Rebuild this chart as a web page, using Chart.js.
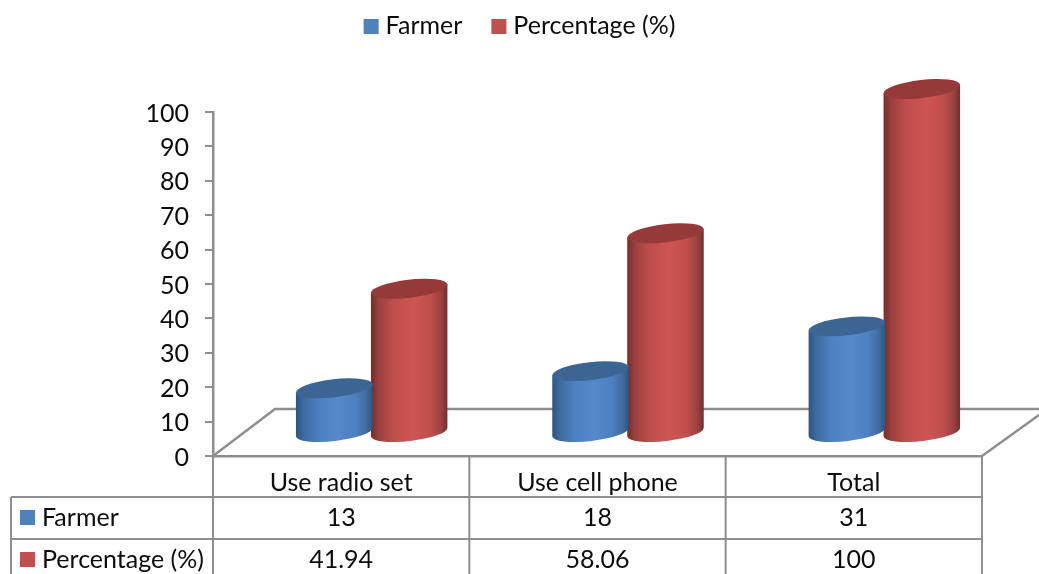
<!DOCTYPE html>
<html><head><meta charset="utf-8">
<style>html,body{margin:0;padding:0;background:#fff}canvas{display:block}</style>
<script src="https://cdn.jsdelivr.net/npm/chart.js@4/dist/chart.umd.min.js"></script>
</head><body><canvas id="c" width="1039" height="574"></canvas>
<script>
const categories = ["Use radio set", "Use cell phone", "Total"];
const farmer = [13, 18, 31];
const percentage = [41.94, 58.06, 100];
const seriesNames = ["Farmer", "Percentage (%)"];
const yTicks = [0,10,20,30,40,50,60,70,80,90,100];

const FONT = "Lato, Carlito, sans-serif";
const FS = 25;
const INK = "#0c0c0c";
const GRAY = "#8e8e8e";
const DEPTH = {x: 62, y: 47};
const BAR_SHIFT = {x: 30.5, y: -23};
const TONES = [
  {edge:"#2e5480", soft:"#3f6a9f", base:"#4d81c0", mid:"#5489cb", top:"#3d6594"},
  {edge:"#702d2b", soft:"#9a403e", base:"#bf4f4c", mid:"#cd5552", top:"#953a38"}
];

const cylinders = {
  id: "cylinders",
  beforeDatasetsDraw(chart) {
    const {ctx, chartArea: a} = chart;
    ctx.save();
    ctx.strokeStyle = GRAY; ctx.lineWidth = 2.5;
    ctx.beginPath();
    ctx.moveTo(a.left, a.bottom);
    ctx.lineTo(a.left + DEPTH.x, a.bottom - DEPTH.y);
    ctx.lineTo(chart.width, a.bottom - DEPTH.y);
    ctx.moveTo(a.right, a.bottom);
    ctx.lineTo(chart.width, a.bottom - 41);
    ctx.stroke();
    ctx.restore();
  },
  beforeDatasetDraw(chart, args) {
    const ctx = chart.ctx, tone = TONES[args.index], rot = -6.5 * Math.PI / 180, ry = 9;
    args.meta.data.forEach(bar => {
      const cx = bar.x + BAR_SHIFT.x, rx = bar.width / 2 + 1;
      const yt = bar.y + BAR_SHIFT.y, yb = bar.base + BAR_SHIFT.y;
      const ox = rx * Math.cos(rot), oy = rx * Math.sin(rot);
      const g = ctx.createLinearGradient(cx - rx, 0, cx + rx, 0);
      g.addColorStop(0, tone.edge);
      g.addColorStop(0.1, tone.soft);
      g.addColorStop(0.3, tone.base);
      g.addColorStop(0.55, tone.mid);
      g.addColorStop(0.78, tone.base);
      g.addColorStop(0.92, tone.soft);
      g.addColorStop(1, tone.edge);
      ctx.save();
      ctx.fillStyle = g;
      ctx.beginPath();
      ctx.moveTo(cx - ox, yt - oy);
      ctx.lineTo(cx - ox, yb - oy);
      ctx.ellipse(cx, yb, rx, ry, rot, Math.PI, 0, true);
      ctx.lineTo(cx + ox, yt + oy);
      ctx.closePath();
      ctx.fill();
      ctx.fillStyle = tone.top;
      ctx.beginPath();
      ctx.ellipse(cx, yt, rx, ry, rot, 0, Math.PI * 2);
      ctx.fill();
      ctx.restore();
    });
    return false;
  },
  afterDraw(chart) {
    const {ctx, chartArea: a, scales: {x}} = chart;
    const rows = [497, 539], leftEdge = 11;
    const step = x.getPixelForTick(1) - x.getPixelForTick(0);
    const edges = categories.map((_, i) => x.getPixelForTick(i) - step / 2);
    edges.push(a.right);
    ctx.save();
    ctx.strokeStyle = GRAY; ctx.lineWidth = 2;
    ctx.beginPath();
    edges.forEach(e => { ctx.moveTo(e, a.bottom); ctx.lineTo(e, chart.height); });
    ctx.moveTo(leftEdge, rows[0]); ctx.lineTo(leftEdge, chart.height);
    rows.forEach(r => { ctx.moveTo(leftEdge, r); ctx.lineTo(a.right, r); });
    ctx.stroke();
    ctx.font = FS + "px " + FONT;
    ctx.textBaseline = "middle";
    // table rows
    chart.data.datasets.forEach((ds, i) => {
      const yc = rows[i] + 21;
      ctx.fillStyle = ds.backgroundColor;
      ctx.fillRect(20, yc - 8, 15, 15);
      ctx.fillStyle = INK;
      ctx.textAlign = "left";
      ctx.fillText(ds.label, 42, yc);
      ctx.textAlign = "center";
      ds.data.forEach((v, j) => ctx.fillText(String(v), x.getPixelForTick(j), yc));
    });
    // legend
    const widths = chart.data.datasets.map(ds => 22 + ctx.measureText(ds.label).width);
    const gap = 29;
    let lx = (chart.width - widths.reduce((s, w) => s + w, 0) - gap) / 2;
    ctx.textAlign = "left";
    chart.data.datasets.forEach((ds, i) => {
      ctx.fillStyle = ds.backgroundColor;
      ctx.fillRect(lx, 19, 15, 15);
      ctx.fillStyle = INK;
      ctx.fillText(ds.label, lx + 22, 26);
      lx += widths[i] + gap;
    });
    ctx.restore();
  }
};

new Chart(document.getElementById("c"), {
  type: "bar",
  data: {
    labels: categories,
    datasets: [
      {label: seriesNames[0], data: farmer, backgroundColor: "#4f81bd"},
      {label: seriesNames[1], data: percentage, backgroundColor: "#c0504d"}
    ]
  },
  options: {
    responsive: false, animation: false,
    layout: {padding: {top: 112}},
    datasets: {bar: {barPercentage: 1, categoryPercentage: 0.585}},
    plugins: {
      tooltip: {enabled: false},
      legend: {display: false}
    },
    scales: {
      x: {
        afterFit(s) { s.height = 118; },
        grid: {display: true, drawTicks: false, drawOnChartArea: false},
        border: {display: true, color: GRAY, width: 2.5},
        ticks: {color: INK, font: {family: FONT, size: FS}, padding: 12, maxRotation: 0}
      },
      y: {
        min: 0, max: 100,
        afterFit(s) { s.width = 213; },
        afterBuildTicks(s) { s.ticks = yTicks.map(value => ({value})); },
        grid: {display: true, drawOnChartArea: false, color: GRAY, lineWidth: 2, tickLength: 8},
        border: {display: true, color: GRAY, width: 2.5},
        ticks: {color: INK, font: {family: FONT, size: FS}, padding: 16, labelOffset: 1.5}
      },
      yRight: {
        type: "linear", position: "right", min: 0, max: 1,
        afterFit(s) { s.width = 57; },
        grid: {display: false}, border: {display: false}, ticks: {display: false}
      }
    }
  },
  plugins: [cylinders]
});
</script></body></html>
